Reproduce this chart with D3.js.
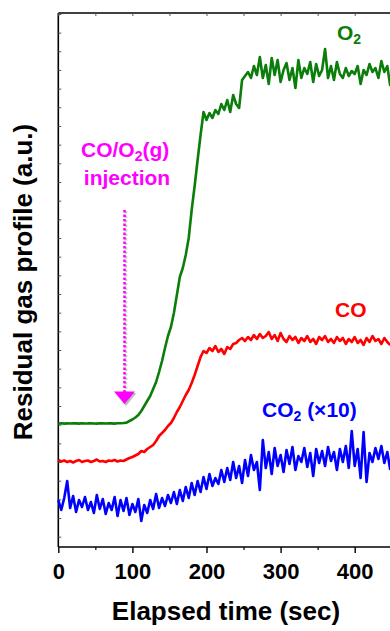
<!DOCTYPE html>
<html><head><meta charset="utf-8">
<script src="https://cdn.jsdelivr.net/npm/d3@7"></script>
<style>
html,body{margin:0;padding:0;background:#fff;}
svg{display:block;font-family:"Liberation Sans",Arial,sans-serif;}
</style></head>
<body><svg id="chart" width="390" height="631"></svg>
<script>
// sampling: one reading every 4 s starting at 0 s
const sampleStart = 0, sampleStep = 4;
const xMajorTicks = [0, 100, 200, 300, 400];
const xMinorTicks = [50, 150, 250, 350, 450];
const xTickLabels = ["0", "100", "200", "300", "400"];
// residual gas signals (a.u.)
const o2 = [123.5,123.7,123.4,123.6,123.5,123.8,123.6,123.4,123.7,123.5,123.6,123.8,123.5,123.4,123.7,123.6,123.5,123.8,123.6,123.4,123.7,123.8,124.0,124.4,
126,127.5,129.5,132,136,141,146,151,158,165,175,186,199,211,220,234,252,270,279,292,309,337,361,387,412,435,
427,434,429,437,433,443,437,447,435,452,443,439,467,471,475,469,481,472,490,469,482,463,489,472,487,465,477,484,467,479,459,487,469,479,473,485,465,483,471,477,498,469,481,467,485,473,469,479,471,476,473,481,463,477,472,483,475,479,469,486,475,481,461];
const co = [87,85.5,86.5,85,86,84.5,86,87,85,86,86.5,85,86,87.5,85.5,86,85,86.5,86,87,85.5,86.5,86,87.5,
89,90,91.5,93,96,95,98,100,102,106,111,114,117,121,124,129,135,140,146,152,157,164,172,181,190,196,
194,199,196,201,195,198,193,200,198,203,204,207,209,206,210,207,212,208,213,209,211,215,208,212,206,214,208,205,211,207,210,204,209,206,211,205,208,203,210,207,211,205,208,204,210,206,209,203,208,205,210,204,207,202,209,205,211,206,208,203,209,205,202];
const co2x10 = [47,37,49,66,39,51,35,47,40,50,37,45,34,52,38,48,33,44,37,50,31,47,36,49,32,43,35,48,26,42,34,47,38,53,39,49,41,52,44,55,43,57,46,60,49,64,52,66,55,70,
58,73,61,69,63,77,65,79,67,85,69,81,64,87,71,92,77,85,57,107,79,95,73,99,81,92,75,97,83,100,77,91,85,99,80,94,71,98,84,96,81,100,86,95,77,98,85,101,79,116,81,98,69,115,65,94,85,99,88,101,84,95,77];

const svg = d3.select("#chart");
const x = d3.scaleLinear().domain([0, 460]).range([58.3, 58.3 + 0.741 * 460]);
const y = d3.scaleLinear().domain([0, 534]).range([547, 13]);
const yMinor = d3.range(10.3, 534, 18.67);
const FONT = "'Liberation Sans',Arial,sans-serif";

// frame lines
const axisCol = "#000";
svg.append("line").attr("x1", x(0)).attr("x2", 400).attr("y1", y(0)).attr("y2", y(0)).attr("stroke", axisCol).attr("stroke-width", 1.6);
svg.append("line").attr("x1", x(0)).attr("x2", 400).attr("y1", y(534)).attr("y2", y(534)).attr("stroke", axisCol).attr("stroke-width", 1.6);
svg.append("line").attr("x1", x(0)).attr("x2", x(0)).attr("y1", y(0)).attr("y2", y(534)).attr("stroke", axisCol).attr("stroke-width", 1.6);

// bottom axis
const gx = svg.append("g").attr("transform", `translate(0,${y(0)})`)
  .call(d3.axisBottom(x).tickValues(xMajorTicks).tickSize(6).tickFormat((d, i) => xTickLabels[i]));
gx.select(".domain").remove();
gx.selectAll(".tick line").attr("stroke-width", 1.4);
gx.selectAll(".tick text").attr("font-size", 22).attr("font-weight", "bold").attr("fill", "#000")
  .attr("font-family", FONT).attr("y", 0).attr("dy", 0).attr("transform", "translate(0,32)");
const gxm = svg.append("g").attr("transform", `translate(0,${y(0)})`)
  .call(d3.axisBottom(x).tickValues(xMinorTicks).tickSize(3).tickFormat(""));
gxm.select(".domain").remove();
gxm.selectAll(".tick line").attr("stroke-width", 1.2);

// top inner ticks
const gt = svg.append("g").attr("transform", `translate(0,${y(534)})`)
  .call(d3.axisBottom(x).tickValues(xMajorTicks.concat(xMinorTicks)).tickSize(3).tickFormat(""));
gt.select(".domain").remove();
gt.selectAll(".tick line").attr("stroke-width", 1).attr("stroke", "#555");

// left inner ticks
const gy = svg.append("g").attr("transform", `translate(${x(0)},0)`)
  .call(d3.axisRight(y).tickValues(yMinor).tickSize(3).tickFormat(""));
gy.select(".domain").remove();
gy.selectAll(".tick line").attr("stroke-width", 1).attr("stroke", "#555");

// data lines
const line = d3.line().x((d, i) => x(sampleStart + i * sampleStep)).y(d => y(d));
const series = [[o2, "#0a7d0a"], [co, "#ff0000"], [co2x10, "#0000ff"]];
series.forEach(([vals, col]) => {
  svg.append("path").datum(vals).attr("d", line).attr("fill", "none")
    .attr("stroke", col).attr("stroke-width", 2.6).attr("stroke-linejoin", "round");
});

// series labels
function label(txt, sub, rest, xx, yy, col, anchor) {
  const t = svg.append("text").attr("x", xx).attr("y", yy).attr("fill", col)
    .attr("font-size", 21).attr("font-weight", "bold").attr("text-anchor", anchor || "start");
  t.append("tspan").text(txt);
  if (sub) t.append("tspan").text(sub).attr("font-size", 14).attr("dy", 4);
  if (rest) t.append("tspan").text(rest).attr("dy", -4);
  return t;
}
label("O", "2", null, 337, 40, "#0a7d0a");
label("CO", null, null, 335, 317, "#ff0000");
label("CO", "2", " (×10)", 262, 417, "#0000ff");

// injection annotation
const mag = "#ff00ff";
label("CO/O", "2", "(g)", 81, 157, mag);
svg.append("text").attr("x", 127).attr("y", 185).attr("fill", mag).attr("font-size", 21)
  .attr("font-weight", "bold").attr("text-anchor", "middle").text("injection");
const ax = 124.5;
svg.append("line").attr("x1", ax + 1.5).attr("x2", ax + 1.5).attr("y1", 211).attr("y2", 392)
  .attr("stroke", "#c8c8c8").attr("stroke-width", 2.5).attr("stroke-dasharray", "2.5,2");
svg.append("line").attr("x1", ax).attr("x2", ax).attr("y1", 210).attr("y2", 392)
  .attr("stroke", mag).attr("stroke-width", 2.5).attr("stroke-dasharray", "2.5,2");
svg.append("path").attr("d", `M${ax - 9},${393} L${ax + 12},${393} L${ax + 1.5},${406} Z`).attr("fill", "#bbbbbb");
svg.append("path").attr("d", `M${ax - 10.5},${391.5} L${ax + 10.5},${391.5} L${ax},${404} Z`).attr("fill", mag);

// axis titles
svg.append("text").attr("transform", "translate(32,282) rotate(-90)").attr("text-anchor", "middle")
  .attr("font-size", 26).attr("font-weight", "bold").attr("fill", "#000").text("Residual gas profile (a.u.)");
svg.append("text").attr("x", 226).attr("y", 620).attr("text-anchor", "middle")
  .attr("font-size", 26).attr("font-weight", "bold").attr("fill", "#000").text("Elapsed time (sec)");
</script></body></html>
